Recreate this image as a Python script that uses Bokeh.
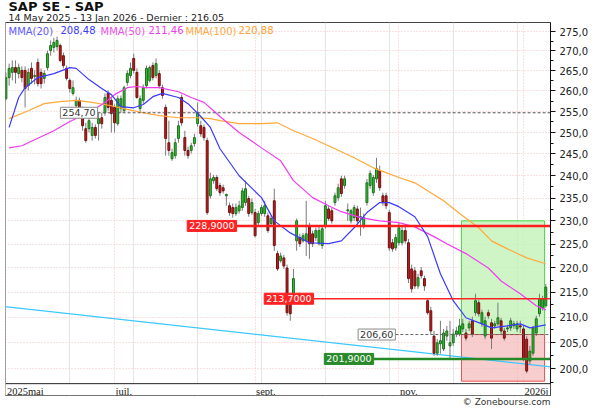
import numpy as np
from bokeh.plotting import figure
from bokeh.models import (Range1d, FixedTicker, Grid, Label, LabelSet, Title, Span,
                          BoxAnnotation, ColumnDataSource)
from bokeh.embed import file_html
from bokeh.resources import INLINE

FONT = "DejaVu Sans"

# ---------------- data ----------------
opens = [258.1, 263.3, 264.6, 265.8, 264.3, 265.1, 265.1, 261.3, 265.6, 263.6,
         267.1, 264.6, 263.1, 265.8, 270.1, 270.9, 271.1, 271.4, 268.8, 265.6,
         262.6, 259.4, 256.4, 257.7, 255.2, 250.9, 250.9, 249.3, 251.2, 252.1,
         253.5, 254.7, 259.4, 257.7, 256.0, 252.1, 255.7, 255.2, 262.1, 263.8,
         268.1, 264.6, 255.7, 257.7, 261.3, 262.6, 266.3, 263.8, 264.3, 260.8,
         256.0, 247.6, 243.9, 244.6, 248.6, 258.4, 248.8, 245.8, 245.8, 247.4,
         252.1, 251.6, 251.2, 248.1, 235.5, 238.9, 239.6, 237.8, 237.3, 235.5,
         233.3, 232.9, 231.6, 232.2, 232.9, 234.0, 234.9, 231.8, 231.8, 229.6,
         231.6, 231.6, 231.1, 229.4, 234.4, 223.0, 221.5, 222.1, 220.0, 212.7,
         214.7, 225.7, 226.4, 225.7, 225.7, 228.9, 227.2, 226.4, 225.1, 224.7,
         228.9, 232.6, 232.2, 234.0, 235.1, 239.3, 237.8, 232.2, 230.0, 230.7,
         232.6, 230.7, 228.9, 234.0, 237.8, 236.2, 239.3, 241.2, 235.5, 235.5,
         231.8, 225.3, 224.2, 225.3, 225.3, 227.9, 225.3, 219.8, 219.4, 216.3,
         219.4, 217.8, 213.3, 211.3, 206.3, 203.0, 204.8, 203.8, 206.3, 204.4,
         205.0, 206.7, 206.7, 207.7, 206.9, 207.9, 209.3, 210.9, 212.9, 208.7,
         206.3, 210.9, 208.9, 208.3, 208.7, 209.3, 207.3, 207.7, 207.9, 208.3,
         207.7, 208.3, 207.7, 205.7, 201.5, 203.0, 206.9, 210.7, 211.9, 212.3]
highs = [264.6, 266.8, 267.6, 267.6, 266.8, 266.1, 266.1, 265.6, 267.1, 265.1,
         268.1, 265.6, 265.1, 270.1, 272.7, 273.4, 273.7, 271.9, 269.6, 266.3,
         263.1, 262.6, 258.6, 258.4, 256.2, 252.3, 254.0, 252.3, 251.9, 254.7,
         254.7, 259.4, 260.1, 258.6, 256.7, 258.9, 258.9, 261.3, 265.1, 267.1,
         269.3, 265.6, 258.9, 261.6, 266.3, 266.3, 267.1, 268.1, 265.1, 261.6,
         256.7, 252.8, 246.2, 248.6, 252.8, 259.1, 250.4, 246.7, 247.6, 249.7,
         257.2, 252.8, 251.9, 248.8, 240.7, 240.2, 240.2, 238.4, 238.0, 236.0,
         234.0, 233.8, 233.8, 234.4, 237.3, 238.9, 235.5, 234.9, 232.6, 232.2,
         233.5, 234.4, 231.8, 231.1, 237.1, 223.6, 223.2, 222.7, 220.7, 213.3,
         219.8, 230.5, 227.2, 227.4, 234.4, 229.6, 227.9, 228.5, 228.9, 228.9,
         234.4, 233.3, 232.9, 236.2, 238.2, 240.0, 240.0, 233.8, 232.6, 233.5,
         233.3, 232.9, 231.6, 239.3, 241.2, 240.2, 244.1, 242.3, 236.2, 236.2,
         232.4, 226.1, 227.2, 229.6, 228.7, 228.7, 226.1, 220.7, 220.2, 218.8,
         220.2, 218.4, 213.7, 212.1, 207.3, 205.7, 209.3, 207.7, 208.3, 209.3,
         207.7, 208.1, 209.7, 209.7, 207.7, 209.3, 210.1, 214.7, 213.5, 211.5,
         210.1, 211.5, 209.7, 209.3, 212.9, 209.9, 207.9, 208.5, 209.9, 209.3,
         209.3, 209.3, 208.3, 206.3, 204.4, 208.3, 210.3, 214.7, 214.3, 216.7]
lows = [257.7, 261.3, 262.6, 261.8, 263.1, 262.1, 256.0, 260.1, 261.8, 261.6,
        261.1, 260.6, 261.8, 265.1, 268.8, 269.6, 270.1, 267.1, 265.6, 262.6,
        259.6, 258.9, 255.2, 254.7, 250.4, 247.6, 250.0, 248.1, 248.6, 248.1,
        250.9, 254.0, 255.2, 250.0, 250.0, 251.6, 254.7, 254.7, 261.3, 263.1,
        264.3, 258.1, 254.7, 256.9, 260.6, 262.1, 262.6, 263.1, 260.6, 258.1,
        244.6, 244.6, 243.4, 243.9, 247.6, 251.6, 244.6, 243.9, 245.1, 246.7,
        251.4, 249.0, 248.1, 231.3, 234.9, 238.2, 236.6, 235.5, 236.0, 233.3,
        231.1, 230.7, 231.1, 231.6, 232.2, 233.3, 230.9, 231.3, 226.4, 228.7,
        231.1, 230.9, 227.4, 228.9, 223.6, 219.4, 221.1, 219.8, 210.3, 209.3,
        214.1, 223.6, 224.4, 225.3, 222.5, 221.9, 224.4, 225.7, 224.7, 224.0,
        228.3, 230.0, 229.4, 233.3, 234.4, 235.3, 237.1, 230.0, 229.4, 230.0,
        229.4, 226.8, 228.3, 233.3, 237.1, 235.5, 238.4, 236.6, 233.3, 232.6,
        223.6, 223.4, 223.6, 224.7, 224.7, 225.1, 216.9, 214.9, 215.7, 215.7,
        217.8, 215.3, 210.5, 206.7, 202.5, 202.5, 202.9, 203.4, 205.4, 201.9,
        204.4, 206.1, 206.3, 207.1, 205.4, 207.3, 206.1, 210.3, 210.1, 208.1,
        205.7, 209.7, 203.8, 207.7, 208.3, 206.7, 205.4, 207.1, 207.3, 207.7,
        207.1, 206.9, 201.5, 199.2, 200.9, 202.5, 206.3, 210.1, 211.3, 211.9]
closes = [263.3, 265.6, 265.8, 264.6, 265.8, 263.3, 260.6, 264.6, 263.1, 263.8,
          261.8, 261.8, 264.3, 269.3, 271.4, 272.2, 272.7, 267.6, 266.3, 263.1,
          260.6, 260.8, 257.7, 255.7, 251.6, 248.1, 252.8, 251.2, 249.3, 253.3,
          252.1, 258.4, 256.0, 254.5, 252.3, 258.1, 258.1, 260.8, 264.3, 265.6,
          265.1, 258.4, 258.1, 260.8, 265.6, 265.8, 263.3, 266.8, 261.3, 258.9,
          248.6, 245.8, 245.3, 247.6, 251.6, 252.3, 245.8, 244.6, 246.9, 248.8,
          254.7, 249.7, 248.8, 231.8, 239.3, 239.6, 237.1, 236.2, 236.6, 235.8,
          231.8, 231.6, 232.9, 233.3, 236.6, 237.1, 231.6, 234.0, 226.8, 231.6,
          232.9, 233.3, 227.9, 230.5, 224.7, 219.8, 222.5, 220.4, 210.9, 210.7,
          217.8, 230.0, 225.1, 226.8, 227.2, 225.1, 225.1, 227.9, 227.9, 228.3,
          233.3, 230.5, 230.0, 235.5, 237.3, 236.0, 239.3, 232.4, 232.2, 232.9,
          230.0, 230.9, 230.7, 238.4, 240.5, 239.6, 241.6, 237.3, 234.0, 233.3,
          224.2, 224.0, 226.4, 228.5, 227.9, 225.7, 217.8, 215.7, 216.3, 218.0,
          218.4, 216.3, 210.9, 207.3, 203.0, 205.0, 205.4, 206.9, 207.3, 205.0,
          206.7, 207.3, 208.3, 208.7, 205.9, 208.7, 206.7, 213.3, 210.7, 210.9,
          209.3, 210.3, 205.9, 208.7, 209.9, 207.3, 205.9, 207.9, 209.3, 208.7,
          208.7, 208.1, 201.9, 199.6, 203.4, 207.9, 209.7, 213.7, 213.7, 216.05]

ma20_idx = [1, 4, 6, 10, 15, 20, 22, 26, 30, 33, 36, 40, 43, 46, 49, 54, 57, 61, 64, 67,
            73, 80, 84, 89, 95, 101, 105, 109, 113, 117, 120, 123, 128, 132, 136, 140,
            144, 149, 152, 157, 161, 164, 169]
ma20_val = [251.2, 258.4, 260.8, 263.3, 264.3, 265.8, 265.6, 262.8, 260.6, 259.1,
            256.2, 255.9, 256.7, 258.6, 259.4, 258.4, 256.9, 253.8, 251.2, 246.2,
            240.0, 235.1, 230.0, 227.4, 225.3, 225.1, 225.7, 228.5, 231.8, 234.0,
            234.0, 233.1, 230.9, 226.6, 218.8, 213.3, 209.9, 208.7, 207.9, 208.3,
            208.7, 207.9, 208.48]
ma50_idx = [1, 5, 9, 15, 20, 26, 31, 34, 38, 41, 44, 48, 54, 58, 62, 65, 67, 73, 80, 86,
            90, 96, 101, 105, 111, 117, 123, 128, 134, 138, 144, 151, 155, 161, 166, 169]
ma50_val = [246.4, 246.9, 248.3, 250.4, 252.6, 254.7, 257.2, 259.1, 260.8, 261.1,
            260.8, 260.8, 259.8, 258.4, 257.2, 255.2, 253.8, 250.0, 246.4, 243.4,
            238.9, 235.1, 233.3, 232.0, 230.7, 230.0, 229.6, 228.7, 226.6, 225.1,
            223.0, 220.0, 217.3, 214.7, 212.3, 211.46]
ma100_idx = [1, 7, 12, 17, 22, 27, 33, 38, 43, 48, 54, 60, 64, 67, 73, 80, 85, 90, 96, 103,
             109, 115, 119, 123, 128, 133, 137, 142, 148, 152, 157, 163, 169]
ma100_val = [253.3, 255.2, 256.9, 257.4, 257.7, 257.2, 256.4, 255.5, 254.7, 254.0,
             253.5, 253.5, 253.3, 252.8, 252.1, 252.1, 252.3, 250.4, 248.6, 246.2,
             244.1, 241.8, 240.7, 239.6, 238.4, 236.2, 234.4, 231.6, 228.5, 225.7,
             224.0, 222.1, 220.88]

trend_idx = [-1.5, 170.5]
trend_val = [212.2, 200.4]

level_vals = [254.70, 228.90, 213.70, 206.60, 201.90]
level_text = ["254,70", "228,9000", "213,7000", "206,60", "201,9000"]
level_start = [28.7, 72.2, 96.3, 121.9, 115.1]

zone_left = [142.6, 142.6]
zone_right = [168.6, 168.6]
zone_top = [230.0, 206.6]
zone_bottom = [206.6, 197.7]

x_tick_idx = [0, 34, 78, 123, 162]
x_tick_labels = ["2025mai", "juil.", "sept.", "nov.", "2026j"]
y_ticks = [200, 205, 210, 215, 220, 225, 230, 235, 240, 245, 250, 255, 260, 265, 270, 275]
y_tick_labels = ["200,0", "205,0", "210,0", "215,0", "220,0", "225,0", "230,0", "235,0",
                 "240,0", "245,0", "250,0", "255,0", "260,0", "265,0", "270,0", "275,0"]
y_minor = [197.5, 202.5, 207.5, 212.5, 217.5, 222.5, 227.5, 232.5, 237.5, 242.5,
           247.5, 252.5, 257.5, 262.5, 267.5, 272.5, 277.5]

title_text = "SAP SE - SAP"
subtitle_text = "14 May 2025 - 13 Jan 2026 - Dernier : 216.05"
copyright_text = "\u00a9 Zonebourse.com"

# ---------------- layout constants ----------------
X_LO, X_HI = -0.13, 170.46
Y_LO, Y_HI = 195.05, 277.35
STRIP = 197.24          # price level of the separator above the date strip

# ---------------- figure ----------------
o = np.array(opens); h = np.array(highs); l = np.array(lows); c = np.array(closes)
idx = np.arange(len(c))
up = c >= o

p = figure(width=592, height=405, output_backend="svg", toolbar_location=None,
           y_axis_type="log", x_axis_location=None, y_axis_location="right",
           x_range=Range1d(X_LO, X_HI), y_range=Range1d(Y_LO, Y_HI),
           min_border_left=5, min_border_right=42, min_border_top=0, min_border_bottom=0,
           background_fill_color="white", border_fill_color="white",
           outline_line_color="#444444", outline_line_width=1)

# titles
p.add_layout(Title(text=subtitle_text, text_font=FONT, text_font_size="9.5px",
                   text_font_style="normal", text_color="#222222", standoff=-1, offset=3),
             "above")
p.add_layout(Title(text=title_text, text_font=FONT, text_font_size="13px",
                   text_font_style="bold", text_color="#111111", standoff=-7, offset=3),
             "above")
p.add_layout(Title(text=copyright_text, text_font=FONT, text_font_size="9px", align="right",
                   text_font_style="normal", text_color="#333333", standoff=-2), "below")

# y axis (right, log)
yax = p.yaxis[0]
yax.ticker = FixedTicker(ticks=y_ticks, minor_ticks=y_minor)
yax.major_label_overrides = dict(zip(y_ticks, y_tick_labels))
yax.major_label_text_font = FONT
yax.major_label_text_font_size = "10px"
yax.major_label_text_color = "#222222"
yax.axis_line_color = "#111111"
yax.major_tick_line_color = "#111111"
yax.minor_tick_line_color = "#111111"
yax.major_tick_in = 0
yax.major_tick_out = 5
yax.minor_tick_in = 0
yax.minor_tick_out = 3
yax.major_label_standoff = 4

p.ygrid.grid_line_color = "#f0c4c4"
p.ygrid.grid_line_dash = "1 2"
xgrid = Grid(dimension=0, ticker=FixedTicker(ticks=x_tick_idx),
             grid_line_color="#f0c4c4", grid_line_dash="1 2")
p.add_layout(xgrid)

# zones
p.quad(left=zone_left[:1], right=zone_right[:1], top=zone_top[:1], bottom=zone_bottom[:1],
       fill_color="#bff2b4", fill_alpha=0.75, line_color="#48dd48", line_width=1)
p.quad(left=zone_left[1:], right=zone_right[1:], top=zone_top[1:], bottom=zone_bottom[1:],
       fill_color="#f5bcbc", fill_alpha=0.75, line_color="#e85454", line_width=1)

# trend line
p.line(trend_idx, trend_val, line_color="#3cc8ff", line_width=1.3)

# candles
p.segment(x0=idx, x1=idx, y0=l, y1=h, line_color="#7a7a7a", line_width=1)
src_up = ColumnDataSource(dict(x=idx[up], top=c[up], bottom=o[up]))
src_dn = ColumnDataSource(dict(x=idx[~up], top=o[~up], bottom=c[~up]))
p.vbar(x="x", top="top", bottom="bottom", width=0.6, source=src_up,
       fill_color="#2fc42f", line_color="#1d6e1d", line_width=1)
p.vbar(x="x", top="top", bottom="bottom", width=0.6, source=src_dn,
       fill_color="#c41c1c", line_color="#6e1010", line_width=1)

# moving averages
p.line(ma100_idx, ma100_val, line_color="#ffa93a", line_width=1.2)
p.line(ma50_idx, ma50_val, line_color="#f03cf0", line_width=1.2)
p.line(ma20_idx, ma20_val, line_color="#3a3aff", line_width=1.2)

# horizontal levels
lvl_color = ["#555555", "#ff1c1c", "#ff2424", "#666666", "#258a25"]
lvl_width = [1, 2.5, 1.3, 1, 2.5]
lvl_dash = ["3 2", "solid", "solid", "3 2", "solid"]
lbl_bg = ["white", "#ff2222", "#ff2222", "white", "#2a8a2a"]
lbl_border = ["#8a8a8a", "#ff2222", "#ff2222", "#8a8a8a", "#2a8a2a"]
lbl_txt = ["#333333", "white", "white", "#333333", "white"]
for i, v in enumerate(level_vals):
    p.segment(x0=[level_start[i]], x1=[X_HI], y0=[v], y1=[v], line_color=lvl_color[i],
              line_width=lvl_width[i], line_dash=lvl_dash[i])
    p.add_layout(Label(x=level_start[i], y=v, text=level_text[i], text_align="right",
                       text_baseline="middle", text_font=FONT, text_font_size="9.5px",
                       text_color=lbl_txt[i], background_fill_color=lbl_bg[i],
                       border_line_color=lbl_border[i], padding=2))

# date strip at the bottom of the frame
p.add_layout(BoxAnnotation(top=STRIP, fill_color="white", fill_alpha=1.0, line_color=None))
p.add_layout(Span(location=STRIP, dimension="width", line_color="#222222", line_width=1))
xlab_src = ColumnDataSource(dict(x=x_tick_idx, text=x_tick_labels))
p.add_layout(LabelSet(x="x", y=STRIP, text="text", source=xlab_src, text_align="left",
                      text_baseline="top", y_offset=-2, x_offset=1, text_font=FONT,
                      text_font_size="10.5px", text_color="#222222"))

# moving-average legend (coloured texts)
legend_items = [("MMA(20)", ma20_val[-1], "#5a5aff", "#3a3aff"),
                ("MMA(50)", ma50_val[-1], "#f050f0", "#f03cf0"),
                ("MMA(100)", ma100_val[-1], "#ffaa44", "#ffa030")]
legend_x = [3, 55, 95, 143, 180, 233]
for k, (name, val, col1, col2) in enumerate(legend_items):
    p.add_layout(Label(x=legend_x[2 * k], y=Y_HI, x_units="screen", y_offset=-3,
                       text=name, text_font=FONT, text_font_size="10px",
                       text_color=col1, text_baseline="top"))
    p.add_layout(Label(x=legend_x[2 * k + 1], y=Y_HI, x_units="screen", y_offset=-3,
                       text=f"{val:.2f}".replace(".", ","), text_font=FONT,
                       text_font_size="10px", text_color=col2, text_baseline="top"))

open("out.html", "w").write(file_html(p, INLINE))
